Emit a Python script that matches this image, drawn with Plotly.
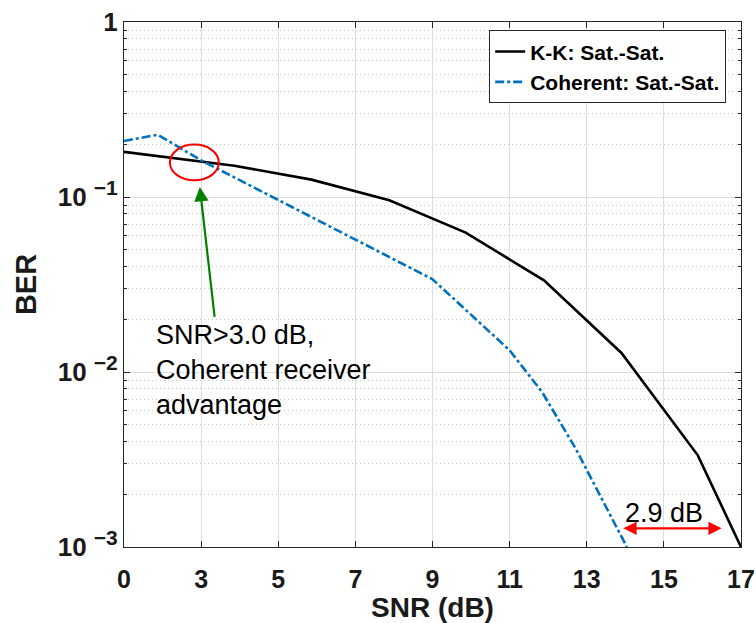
import numpy as np
import plotly.graph_objects as go

# ---------------- data ----------------
tick_db = [0, 3, 5, 7, 9, 11, 13, 15, 17]
tick_labels = ["0", "3", "5", "7", "9", "11", "13", "15", "17"]

kk_snr = [0, 3.86, 5.86, 7.88, 9.86, 11.89, 13.9, 15.88, 17]
kk_ber = [0.181, 0.151, 0.1257, 0.0958, 0.0626, 0.0334, 0.01285, 0.00334, 0.001]

coh_snr = [0, 1.31, 3.0, 9.0, 11.0, 11.84, 12.71, 14.04]
coh_ber = [0.209, 0.227, 0.162, 0.0339, 0.0133, 0.00769, 0.00366, 0.001]

y_tickvals = [1e-3, 1e-2, 1e-1, 1]
y_exps = ["−3", "−2", "−1"]
y_ticktext = ["10 <sup><span style='font-size:21px'>%s</span></sup>" % e for e in y_exps] + ["1"]

# the x axis places the labelled SNR ticks at equal spacing
tick_pos = list(range(len(tick_db)))


def xpos(db):
    return np.interp(db, tick_db, tick_pos)


FONT = "Liberation Sans, Arial, sans-serif"

fig = go.Figure()
fig.add_trace(go.Scatter(
    x=xpos(kk_snr), y=kk_ber, mode="lines",
    name="K-K: Sat.-Sat.",
    line=dict(color="black", width=2.6),
))
fig.add_trace(go.Scatter(
    x=xpos(coh_snr), y=coh_ber, mode="lines",
    name="Coherent: Sat.-Sat.",
    line=dict(color="#0072BD", width=2.6, dash="dashdot"),
))

grid_major = "#dedede"
grid_minor = "#c8c8c8"

fig.update_xaxes(
    range=[0, 8], tickmode="array", tickvals=tick_pos, ticktext=tick_labels,
    showgrid=True, gridcolor=grid_major, gridwidth=1,
    showline=True, linecolor="#262626", linewidth=1, mirror="ticks",
    ticks="inside", ticklen=6, tickcolor="#262626",
    tickfont=dict(family=FONT, size=25, color="#1a1a1a", weight="bold"),
    ticklabelstandoff=10,
    title=dict(text="SNR (dB)", font=dict(family=FONT, size=28, color="#1a1a1a", weight="bold"),
               standoff=4),
    zeroline=False, automargin=False,
)
fig.update_yaxes(
    type="log", range=[-3, 0], tickmode="array", tickvals=y_tickvals, ticktext=y_ticktext,
    showgrid=True, gridcolor=grid_major, gridwidth=1,
    showline=True, linecolor="#262626", linewidth=1, mirror="ticks",
    ticks="inside", ticklen=6, tickcolor="#262626",
    tickfont=dict(family=FONT, size=26, color="#1a1a1a", weight="bold"),
    minor=dict(dtick="D1", showgrid=True, griddash="1px,3px", gridcolor=grid_minor,
               ticks="inside", ticklen=3, tickcolor="#262626"),
    title=dict(text="BER", font=dict(family=FONT, size=29, color="#1a1a1a", weight="bold"),
               standoff=12),
    zeroline=False, automargin=False,
)

# red ellipse around the crossing
fig.add_shape(type="circle", xref="x", yref="y",
              x0=0.595, x1=1.229, y0=10 ** -0.9046, y1=10 ** -0.7006,
              line=dict(color="red", width=2))

# green arrow
fig.add_annotation(x=0.983, y=-0.943, ax=1.177, ay=-1.693, xref="x", yref="y",
                   axref="x", ayref="y", text="", showarrow=True,
                   arrowhead=2, arrowsize=1.3, arrowwidth=2.2, arrowcolor="#008000")

fig.add_annotation(x=0.39, y=-1.99, xref="x", yref="y", xanchor="left", yanchor="middle",
                   text="SNR>3.0 dB,<br>Coherent receiver<br>advantage", align="left",
                   showarrow=False, font=dict(family=FONT, size=27, color="black"))

# red double arrow for 2.9 dB gap
fig.add_annotation(x=7.749, y=-2.893, ax=6.455, ay=-2.893, xref="x", yref="y",
                   axref="x", ayref="y", text="", showarrow=True,
                   arrowhead=2, startarrowhead=2, arrowside="end+start",
                   arrowsize=1.2, startarrowsize=1.2, arrowwidth=2.2, arrowcolor="red")
fig.add_annotation(x=7.0, y=-2.807, xref="x", yref="y", text="2.9 dB",
                   showarrow=False, font=dict(family=FONT, size=27, color="black"))

fig.update_layout(
    width=756, height=623,
    margin=dict(l=124, r=15, t=22, b=76, autoexpand=False),
    plot_bgcolor="white", paper_bgcolor="white",
    legend=dict(x=0.976, y=0.984, xanchor="right", yanchor="top",
                bgcolor="white", bordercolor="#262626", borderwidth=1,
                font=dict(family=FONT, size=21, color="black", weight="bold"),
                tracegroupgap=0),
    showlegend=True,
)

fig.write_html("out.html")
